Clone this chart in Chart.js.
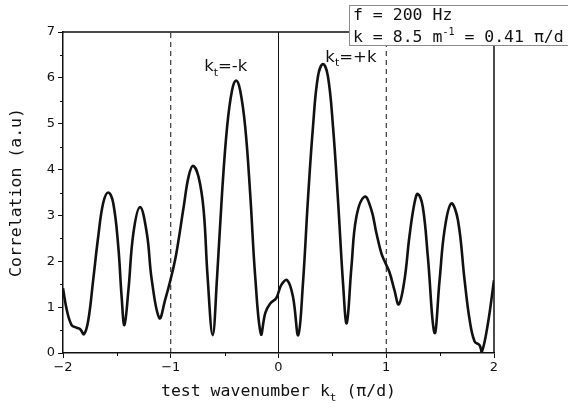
<!DOCTYPE html>
<html>
<head>
<meta charset="utf-8">
<script src="https://cdn.jsdelivr.net/npm/chart.js@4.4.1/dist/chart.umd.min.js"></script>
<style>
  body { margin: 0; background: #fff; }
</style>
</head>
<body>
<canvas id="corrChart" width="568" height="410"></canvas>
<script>
// wavenumber samples (pi/d) and correlation
const kt = [-2.00, -1.965, -1.92, -1.873, -1.84, -1.805, -1.765, -1.72, -1.673, -1.627, -1.58,
  -1.534, -1.487, -1.456, -1.43, -1.393, -1.347, -1.285, -1.222, -1.176, -1.105, -1.052, -1.004,
  -0.95, -0.88, -0.835, -0.794, -0.742, -0.695, -0.658, -0.611, -0.57, -0.524, -0.477, -0.431,
  -0.393, -0.356, -0.309, -0.263, -0.216, -0.163, -0.123, -0.077, -0.02, 0.025, 0.08, 0.134,
  0.183, 0.227, 0.273, 0.32, 0.366, 0.413, 0.459, 0.506, 0.552, 0.599, 0.633, 0.677, 0.723,
  0.80, 0.862, 0.909, 0.955, 0.985, 1.03, 1.076, 1.116, 1.169, 1.215, 1.262, 1.293, 1.339,
  1.386, 1.448, 1.495, 1.541, 1.603, 1.665, 1.727, 1.774, 1.82, 1.866, 1.888, 1.944, 2.00];
const corr = [1.41, 0.94, 0.61, 0.55, 0.52, 0.41, 0.72, 1.59, 2.54, 3.27, 3.50,
  3.27, 2.32, 1.23, 0.61, 1.37, 2.61, 3.18, 2.61, 1.59, 0.76, 1.16, 1.58,
  2.15, 3.19, 3.84, 4.08, 3.84, 3.12, 1.66, 0.39, 1.66, 3.48, 4.93, 5.73,
  5.94, 5.73, 4.93, 3.48, 1.66, 0.41, 0.87, 1.08, 1.20, 1.48, 1.59, 1.23,
  0.39, 1.52, 3.34, 4.93, 6.03, 6.30, 6.03, 4.93, 3.34, 1.52, 0.65, 1.88, 2.97,
  3.41, 3.12, 2.61, 2.17, 2.00, 1.76, 1.37, 1.06, 1.59, 2.54, 3.27, 3.47, 3.19,
  2.10, 0.44, 1.59, 2.68, 3.26, 2.90, 1.59, 0.72, 0.25, 0.17, 0.03, 0.65, 1.59];

const xMinorTicks = [-1.5, -0.5, 0.5, 1.5];
const yMinorTicks = [0.5, 1.5, 2.5, 3.5, 4.5, 5.5, 6.5];
const dashedAt = [-1, 1];
const solidAt = [0];
const peakLabels = [
  { x: -0.69, y: 6.15, sign: '-' },
  { x: 0.435, y: 6.35, sign: '+' }
];

const ink = '#111';
const monoFont = '"DejaVu Sans Mono", monospace';
const sansFont = '"DejaVu Sans", sans-serif';

function vline(x, dashed) {
  return {
    data: [{ x: x, y: 0 }, { x: x, y: 7 }],
    borderColor: ink,
    borderWidth: 1,
    borderDash: dashed ? [5, 4] : [],
    pointRadius: 0,
    showLine: true,
    order: 2
  };
}

// text with a subscript "t" in the middle
function drawSub(ctx, before, sub, after, x, y, size, family) {
  ctx.font = size + 'px ' + family;
  ctx.fillText(before, x, y);
  let w = ctx.measureText(before).width;
  ctx.font = Math.round(size * 0.65) + 'px ' + family;
  ctx.fillText(sub, x + w, y + size * 0.28);
  w += ctx.measureText(sub).width;
  ctx.font = size + 'px ' + family;
  ctx.fillText(after, x + w, y);
  return w + ctx.measureText(after).width;
}

function subWidth(ctx, before, sub, after, size, family) {
  ctx.font = size + 'px ' + family;
  let w = ctx.measureText(before).width + ctx.measureText(after).width;
  ctx.font = Math.round(size * 0.65) + 'px ' + family;
  return w + ctx.measureText(sub).width;
}

const decorations = {
  id: 'decorations',
  afterDraw(chart) {
    const ctx = chart.ctx;
    const area = chart.chartArea;
    const xs = chart.scales.x, ys = chart.scales.y;
    ctx.save();
    ctx.strokeStyle = ink;
    ctx.fillStyle = ink;

    // top and right frame
    ctx.lineWidth = 1.5;
    ctx.beginPath();
    ctx.moveTo(area.left, area.top);
    ctx.lineTo(area.right, area.top);
    ctx.lineTo(area.right, area.bottom);
    ctx.stroke();

    // minor ticks
    ctx.lineWidth = 1;
    xMinorTicks.forEach(v => {
      const px = Math.round(xs.getPixelForValue(v)) + 0.5;
      ctx.beginPath();
      ctx.moveTo(px, area.bottom);
      ctx.lineTo(px, area.bottom + 3);
      ctx.stroke();
    });
    yMinorTicks.forEach(v => {
      const py = Math.round(ys.getPixelForValue(v)) + 0.5;
      ctx.beginPath();
      ctx.moveTo(area.left, py);
      ctx.lineTo(area.left - 3, py);
      ctx.stroke();
    });

    // peak labels
    ctx.textAlign = 'left';
    ctx.textBaseline = 'alphabetic';
    peakLabels.forEach(p => {
      drawSub(ctx, 'k', 't', '=' + p.sign + 'k', xs.getPixelForValue(p.x), ys.getPixelForValue(p.y), 16.5, sansFont);
    });

    // axis titles
    const bw = subWidth(ctx, 'test wavenumber k', 't', ' (\u03c0/d)', 16.5, monoFont);
    drawSub(ctx, 'test wavenumber k', 't', ' (\u03c0/d)', (area.left + area.right) / 2 - bw / 2, 396, 16.5, monoFont);

    ctx.save();
    ctx.translate(17, (area.top + area.bottom) / 2);
    ctx.rotate(-Math.PI / 2);
    ctx.textAlign = 'center';
    ctx.textBaseline = 'middle';
    ctx.font = '16.5px ' + monoFont;
    ctx.fillText('Correlation (a.u)', 0, 0);
    ctx.restore();

    // parameter box
    ctx.fillStyle = '#fff';
    ctx.fillRect(349.5, 5.5, 230, 40);
    ctx.strokeStyle = '#8a8a8a';
    ctx.lineWidth = 1;
    ctx.strokeRect(349.5, 5.5, 230, 40);
    ctx.fillStyle = ink;
    ctx.font = '16.5px ' + monoFont;
    ctx.fillText('f = 200 Hz', 353, 20);
    let x = 353;
    ctx.fillText('k = 8.5 m', x, 42);
    x += ctx.measureText('k = 8.5 m').width;
    ctx.font = '10px ' + monoFont;
    ctx.fillText('-1', x, 35);
    x += ctx.measureText('-1').width;
    ctx.font = '16.5px ' + monoFont;
    ctx.fillText(' = 0.41 \u03c0/d', x, 42);

    ctx.restore();
  }
};

const ctx = document.getElementById('corrChart').getContext('2d');
new Chart(ctx, {
  type: 'scatter',
  data: {
    datasets: [
      {
        data: kt.map((k, i) => ({ x: k, y: corr[i] })),
        borderColor: ink,
        borderWidth: 2.6,
        pointRadius: 0,
        showLine: true,
        tension: 0.4,
        order: 1
      },
      ...dashedAt.map(v => vline(v, true)),
      ...solidAt.map(v => vline(v, false))
    ]
  },
  options: {
    responsive: false,
    animation: false,
    layout: { padding: { left: 0, right: 74, top: 32, bottom: 0 } },
    plugins: { legend: { display: false }, tooltip: { enabled: false } },
    scales: {
      x: {
        type: 'linear',
        min: -2,
        max: 2,
        afterFit: s => { s.height = 57; },
        ticks: {
          stepSize: 1,
          padding: 2,
          color: ink,
          font: { family: sansFont, size: 13 },
          callback: v => (v < 0 ? '\u2212' + Math.abs(v) : '' + v)
        },
        grid: { drawOnChartArea: false, tickLength: 5, color: ink },
        border: { color: ink, width: 1.5 }
      },
      y: {
        min: 0,
        max: 7,
        afterFit: s => { s.width = 63; },
        ticks: {
          stepSize: 1,
          padding: 3,
          color: ink,
          font: { family: sansFont, size: 13 }
        },
        grid: { drawOnChartArea: false, tickLength: 5, color: ink },
        border: { color: ink, width: 1.5 }
      }
    }
  },
  plugins: [decorations]
});
</script>
</body>
</html>
